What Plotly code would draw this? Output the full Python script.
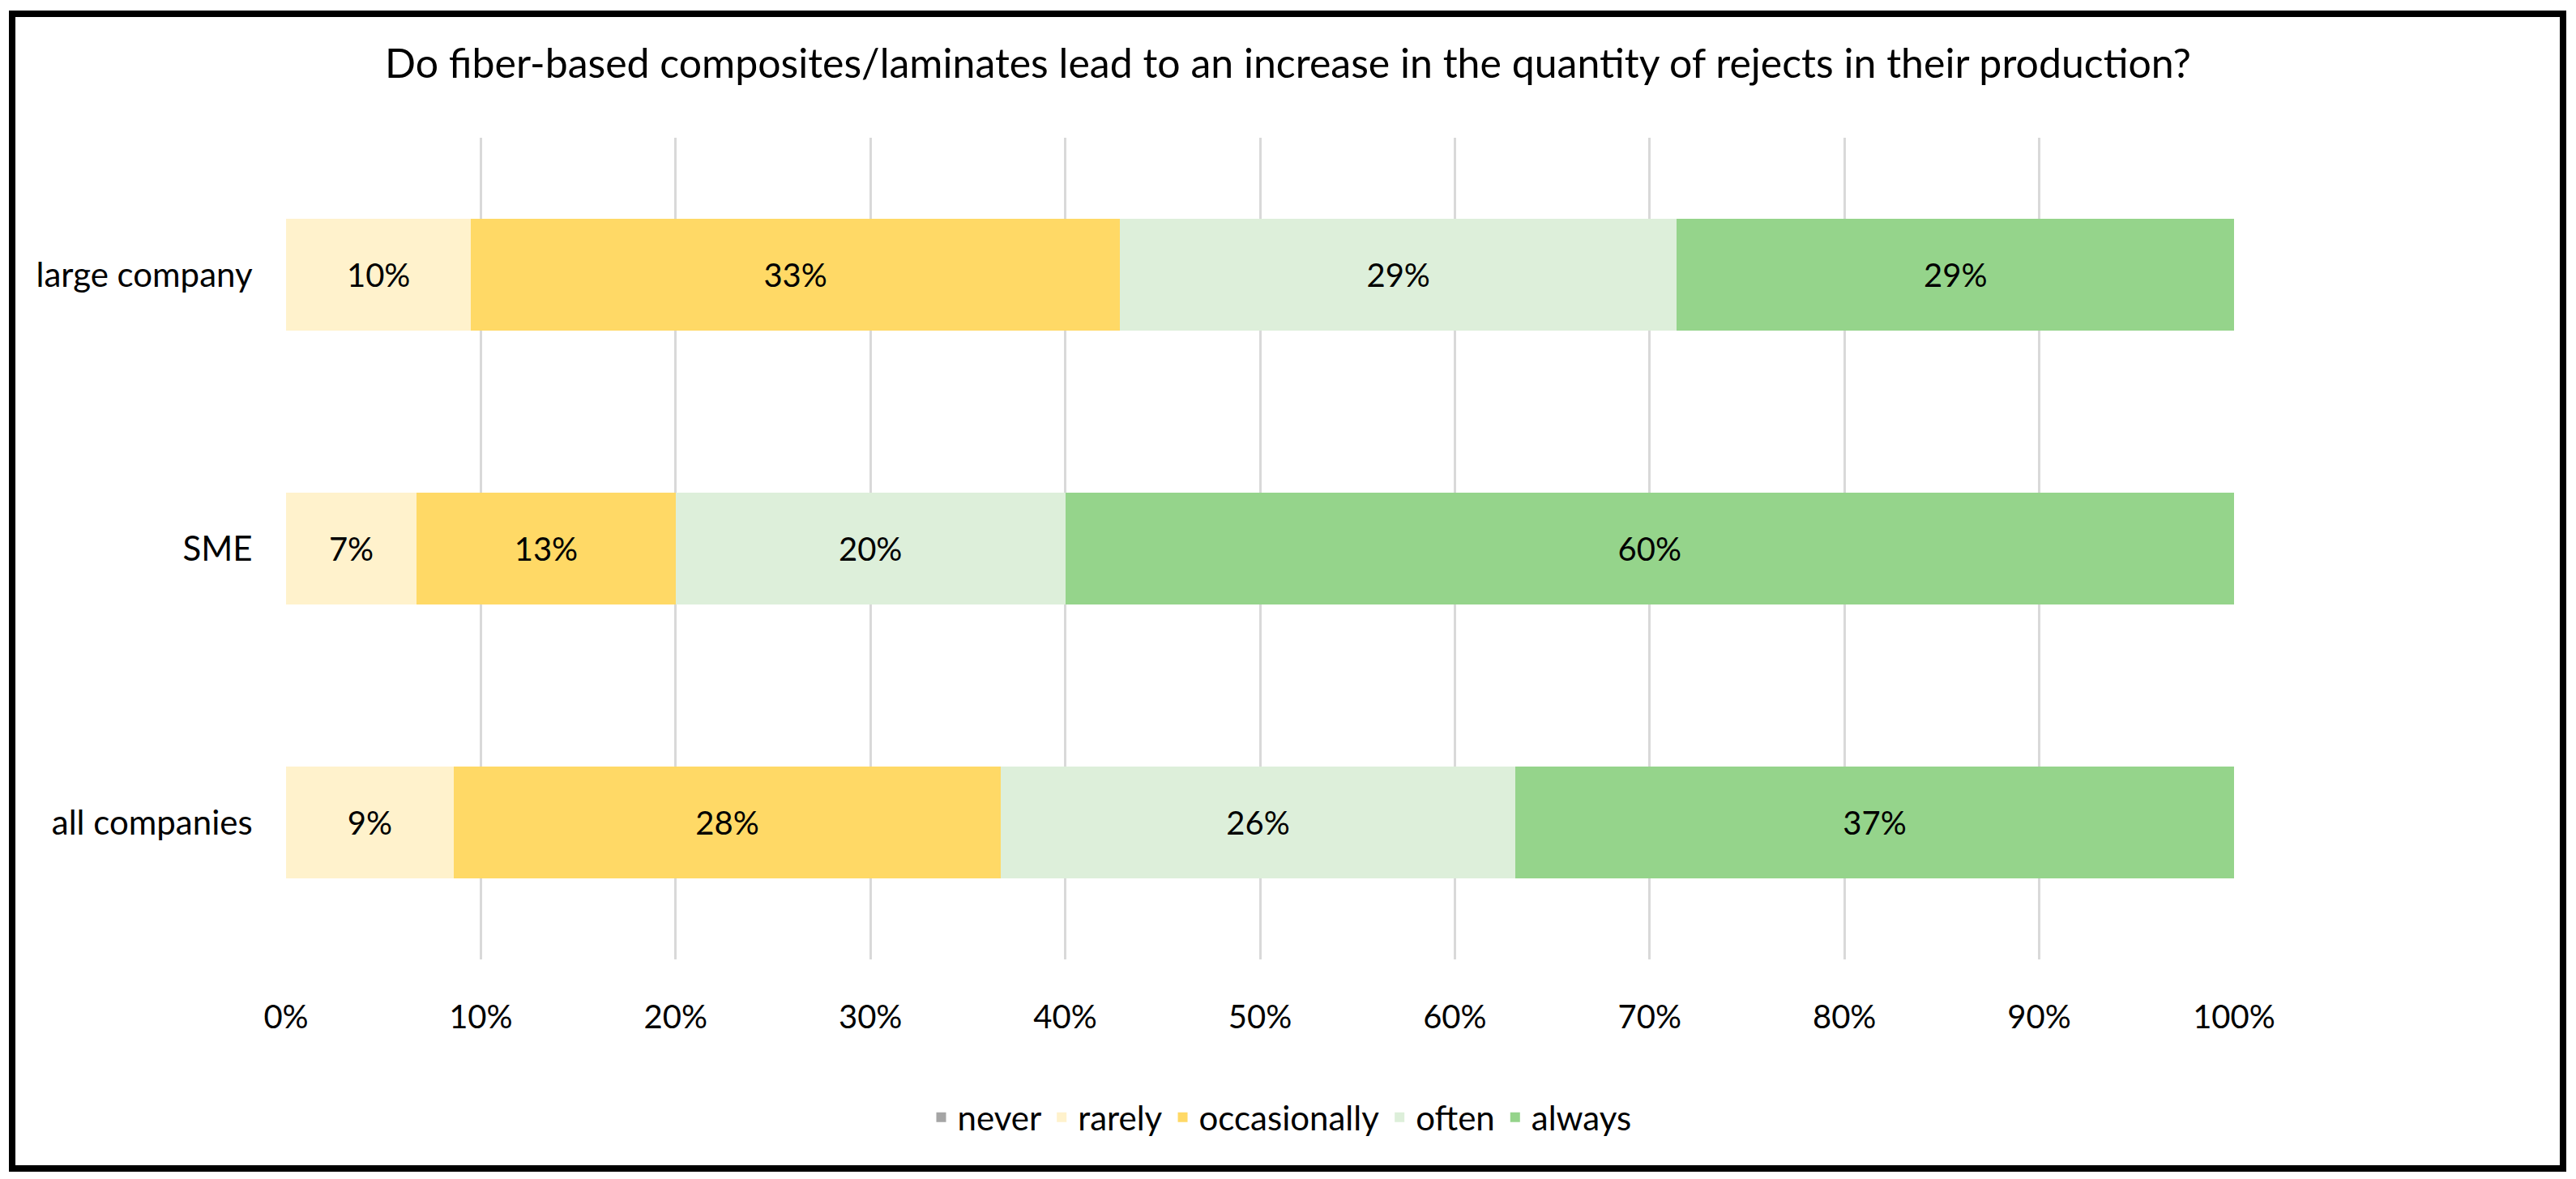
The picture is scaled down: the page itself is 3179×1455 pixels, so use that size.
import plotly.graph_objects as go

W, H = 3179, 1455
L, R, T, B = 353, 3179 - 2757, 170, 1455 - 1184

categories = ["large company", "SME", "all companies"]
series_names = ["never", "rarely", "occasionally", "often", "always"]
never = [0, 0, 0]
rarely = [9.5, 6.7, 8.6]
occasionally = [33.3, 13.3, 28.1]
often = [28.6, 20.0, 26.4]
always = [28.6, 60.0, 36.9]
x_ticks = [0, 10, 20, 30, 40, 50, 60, 70, 80, 90, 100]
x_tick_labels = [f"{t}%" for t in x_ticks]

colors = ["#A5A5A5", "#FFF2CC", "#FFD966", "#DDEFDA", "#95D48B"]
values = [never, rarely, occasionally, often, always]

FONT = "Lato"
fig = go.Figure()
for name, vals, col in zip(series_names, values, colors):
    txt = ["" if v == 0 else f"{round(v):.0f}%" for v in vals]
    fig.add_trace(go.Bar(
        y=categories, x=vals, name=name, orientation="h",
        marker=dict(color=col, line=dict(width=0)),
        text=txt, textposition="inside", insidetextanchor="middle",
        textangle=0, constraintext="none",
        textfont=dict(family=FONT, size=40, color="#000000"),
        hoverinfo="skip",
    ))

fig.update_layout(
    width=W, height=H,
    barmode="stack", bargap=0.59,
    margin=dict(l=L, r=R, t=T, b=B, autoexpand=False),
    paper_bgcolor="white", plot_bgcolor="white",
    font=dict(family=FONT, size=40, color="#000000"),
    title=dict(
        text="Do fiber-based composites/laminates lead to an increase in the quantity of rejects in their production?",
        x=0.5, xref="container", xanchor="center",
        y=1 - 78 / H, yref="container", yanchor="middle",
        font=dict(family=FONT, size=50, color="#000000"),
    ),
    xaxis=dict(
        range=[0, 100], tickvals=x_ticks, ticktext=x_tick_labels,
        showgrid=True, gridcolor="#D9D9D9", gridwidth=3,
        zeroline=False, showline=False,
        ticks="outside", ticklen=36, tickcolor="rgba(0,0,0,0)",
        tickfont=dict(family=FONT, size=40, color="#000000"),
        fixedrange=True,
    ),
    yaxis=dict(
        categoryorder="array", categoryarray=categories[::-1],
        showgrid=False, zeroline=False, showline=False,
        ticks="outside", ticklen=32, tickcolor="rgba(0,0,0,0)",
        tickfont=dict(family=FONT, size=42, color="#000000"),
        fixedrange=True,
    ),
    legend=dict(
        orientation="h", x=(1580 - L) / (W - L - R), xanchor="center",
        y=(1184 - 1379) / (1184 - 170), yanchor="middle",
        font=dict(family=FONT, size=42, color="#000000"),
        itemwidth=30, traceorder="normal",
    ),
    showlegend=True,
)

pw, ph = W - L - R, H - T - B
def px_x(v):
    return (v - L) / pw
def px_y(v):
    return (H - B - v) / ph

fig.add_shape(type="rect", xref="paper", yref="paper",
              x0=px_x(15), x1=px_x(3163), y0=px_y(1442), y1=px_y(17),
              line=dict(color="#000000", width=8), fillcolor="rgba(0,0,0,0)",
              layer="above")

fig.write_html(
    "out.html",
    config={"displayModeBar": False},
    post_script="document.body.style.margin='0';document.body.style.overflow='hidden';",
)
